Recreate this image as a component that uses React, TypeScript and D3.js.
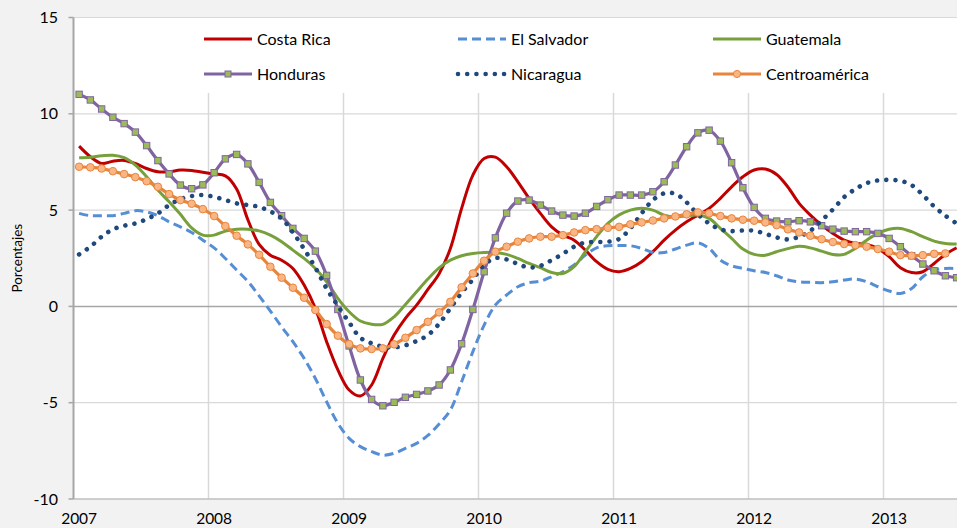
import React from "react";
import * as d3 from "d3";

// ---- Data (monthly, Jan 2007 – Jul 2013) ----
const costaRica = [8.32,7.77,7.42,7.54,7.58,7.42,7.16,6.99,6.99,7.08,7.06,6.96,6.87,6.78,6.1,4.5,3.22,2.66,2.4,1.97,1.11,-0.1,-1.83,-3.3,-4.34,-4.65,-4.08,-2.7,-1.49,-0.62,0.07,0.88,1.7,3.01,5.09,6.82,7.68,7.75,7.25,6.47,5.61,4.83,4.13,3.7,3.44,2.92,2.32,1.92,1.8,1.97,2.32,2.84,3.44,3.96,4.39,4.74,5.09,5.61,6.21,6.73,7.08,7.13,6.85,6.2,5.35,4.74,4.22,3.79,3.44,3.27,3.22,3.01,2.58,2.01,1.76,1.8,2.23,2.7,3.04];
const elSalvador = [4.83,4.71,4.71,4.71,4.83,4.97,4.91,4.71,4.39,4.13,3.84,3.44,3.04,2.49,1.89,1.3,0.55,-0.24,-1.06,-1.83,-2.7,-3.74,-4.95,-6.07,-6.85,-7.28,-7.54,-7.72,-7.63,-7.37,-7.11,-6.7,-6.1,-5.38,-3.91,-2.35,-0.97,0.07,0.59,1.02,1.23,1.31,1.54,1.8,2.15,2.66,3.04,3.15,3.16,3.15,3.01,2.8,2.8,2.98,3.18,3.3,3.01,2.4,2.11,1.97,1.85,1.76,1.59,1.37,1.28,1.25,1.23,1.28,1.37,1.42,1.28,1.02,0.8,0.67,0.93,1.54,1.89,1.97,1.97];
const guatemala = [7.72,7.75,7.82,7.85,7.72,7.34,6.73,6.04,5.43,4.78,4.08,3.7,3.7,3.91,4.01,4.01,3.92,3.7,3.36,2.92,2.49,1.97,1.28,0.42,-0.28,-0.76,-0.93,-0.93,-0.54,0.1,0.76,1.42,2.0,2.4,2.63,2.75,2.8,2.8,2.7,2.49,2.23,2.01,1.76,1.71,2.06,2.84,3.62,4.31,4.75,5.0,5.09,5.0,4.74,4.65,4.71,4.74,4.57,4.05,3.53,2.98,2.7,2.66,2.84,3.0,3.12,3.04,2.87,2.7,2.7,3.01,3.44,3.79,4.01,4.05,3.88,3.62,3.39,3.27,3.24];
const honduras = [11.01,10.72,10.25,9.82,9.49,9.05,8.35,7.57,6.88,6.3,6.11,6.31,6.94,7.66,7.89,7.4,6.44,5.4,4.71,4.05,3.53,2.87,1.61,-0.16,-2.05,-3.82,-4.83,-5.16,-4.98,-4.72,-4.57,-4.39,-4.08,-3.3,-1.94,-0.16,1.8,3.56,4.84,5.47,5.52,5.26,4.95,4.74,4.69,4.84,5.19,5.54,5.78,5.78,5.78,5.95,6.47,7.34,8.29,9.01,9.15,8.58,7.46,6.16,5.14,4.57,4.43,4.39,4.45,4.39,4.19,4.01,3.91,3.88,3.88,3.79,3.53,3.1,2.63,2.2,1.85,1.59,1.49];
const nicaragua = [2.7,3.1,3.62,4.0,4.19,4.31,4.53,4.83,5.26,5.57,5.73,5.78,5.69,5.52,5.35,5.26,5.17,4.93,4.57,3.84,2.98,2.01,0.93,0.03,-0.83,-1.63,-1.92,-2.09,-2.13,-2.02,-1.8,-1.49,-0.9,-0.1,0.71,1.4,2.15,2.51,2.44,2.2,2.02,2.11,2.4,2.73,3.1,3.32,3.34,3.36,3.5,4.05,4.83,5.52,5.87,5.85,5.4,4.78,4.31,4.0,3.91,3.94,3.93,3.77,3.58,3.48,3.62,3.93,4.46,5.03,5.67,6.09,6.4,6.54,6.57,6.52,6.3,5.78,5.19,4.71,4.31];
const centroamerica: (number | null)[] = [7.25,7.22,7.16,7.02,6.87,6.71,6.5,6.21,5.83,5.52,5.33,5.05,4.69,4.17,3.67,3.22,2.68,2.06,1.49,0.97,0.45,-0.19,-0.92,-1.52,-1.96,-2.18,-2.21,-2.18,-1.97,-1.63,-1.23,-0.8,-0.31,0.24,0.99,1.71,2.37,2.84,3.1,3.36,3.53,3.62,3.62,3.7,3.84,3.96,4.01,4.08,4.13,4.26,4.36,4.46,4.57,4.67,4.78,4.88,4.83,4.69,4.57,4.5,4.45,4.36,4.22,4.0,3.84,3.67,3.49,3.34,3.24,3.18,3.1,2.98,2.84,2.66,2.63,2.66,2.73,2.75,null];

const yearLabels = ["2007", "2008", "2009", "2010", "2011", "2012", "2013"];
const yTicks = [15, 10, 5, 0, -5, -10];
const seriesNames = ["Costa Rica", "El Salvador", "Guatemala", "Honduras", "Nicaragua", "Centroamérica"];

const months = d3.timeMonths(new Date(2007, 0, 1), new Date(2013, 7, 1));
const monthKeys = months.map((d) => d3.timeFormat("%Y-%m")(d));

const W = 957;
const H = 528;
const left = 73.5;
const top = 17.5;
const bottom = 499;
const step = 11.25;

const FONT = "Lato, 'Open Sans', sans-serif";

type Style = {
  color: string;
  width: number;
  dash?: string;
  cap?: string;
  marker?: "square" | "circle";
  mFill?: string;
  mStroke?: string;
};

const styles: Style[] = [
  { color: "#c00000", width: 3 },
  { color: "#558ed5", width: 3, dash: "9 5" },
  { color: "#77a03c", width: 3 },
  { color: "#8064a2", width: 3.2, marker: "square", mFill: "#9bbb59", mStroke: "#8064a2" },
  { color: "#1f497d", width: 4.6, dash: "0.01 9.2", cap: "round" },
  { color: "#e8853c", width: 3.2, marker: "circle", mFill: "#fab584", mStroke: "#e8853c" },
];

export default function App() {
  const x = d3
    .scaleBand<string>()
    .domain(monthKeys)
    .range([left, left + monthKeys.length * step])
    .padding(0);
  const bw = x.bandwidth();
  const cx = (i: number) => (x(monthKeys[i]) as number) + bw / 2;
  const y = d3.scaleLinear().domain([-10, 15]).range([bottom, top]);

  const data: (number | null)[][] = [costaRica, elSalvador, guatemala, honduras, nicaragua, centroamerica];

  const line = d3
    .line<number | null>()
    .defined((d) => d != null)
    .x((_, i) => cx(i))
    .y((d) => y(d as number))
    .curve(d3.curveCatmullRom.alpha(0.5));

  const yearIdx = yearLabels.map((_, k) => k * 12);

  const legCols = [204, 458, 713];
  const legRows = [39, 74];

  return (
    <svg
      width={W}
      height={H}
      style={{ position: "absolute", left: 0, top: 0, background: "#f2f2f2" }}
      fontFamily={FONT}
    >
      <rect x={0} y={0} width={W} height={H} fill="#f2f2f2" />
      <rect x={left} y={top} width={W - left} height={bottom - top} fill="#ffffff" />

      {yearIdx.map((i) =>
        i === 0 ? null : (
          <line
            key={"vg" + i}
            x1={x(monthKeys[i]) as number}
            x2={x(monthKeys[i]) as number}
            y1={93}
            y2={bottom}
            stroke="#d9d9d9"
            strokeWidth={1.5}
          />
        )
      )}
      {yTicks.map((t) => (
        <line
          key={"hg" + t}
          x1={left}
          x2={W}
          y1={y(t)}
          y2={y(t)}
          stroke={t === -10 ? "#bfbfbf" : t === 0 ? "#a6a6a6" : "#d9d9d9"}
          strokeWidth={t === -10 || t === 0 ? 1.5 : 1.2}
        />
      ))}
      <line x1={left} x2={left} y1={top} y2={bottom} stroke="#a6a6a6" strokeWidth={2} />
      {yTicks.map((t) => (
        <line key={"yt" + t} x1={left - 5} x2={left} y1={y(t)} y2={y(t)} stroke="#a6a6a6" strokeWidth={1.5} />
      ))}
      {yTicks.map((t) => (
        <text key={"yl" + t} x={58} y={y(t)} dy="0.35em" textAnchor="end" fontSize={16} fill="#000">
          {t}
        </text>
      ))}
      <text
        transform={`translate(22,${(top + bottom) / 2}) rotate(-90)`}
        textAnchor="middle"
        fontSize={13.5}
        fill="#000"
      >
        Porcentajes
      </text>
      {yearLabels.map((lab, k) => (
        <text key={lab} x={cx(yearIdx[k])} y={524} textAnchor="middle" fontSize={15.5} fill="#000">
          {lab}
        </text>
      ))}

      {data.map((vals, s) => {
        const st = styles[s];
        return (
          <g key={seriesNames[s]}>
            <path
              d={line(vals) || ""}
              fill="none"
              stroke={st.color}
              strokeWidth={st.width}
              strokeDasharray={st.dash}
              strokeLinecap={(st.cap as any) || "butt"}
              strokeLinejoin="round"
            />
            {st.marker === "square" &&
              vals.map((v, i) =>
                v == null ? null : (
                  <rect
                    key={i}
                    x={cx(i) - 3.2}
                    y={y(v) - 3.2}
                    width={6.4}
                    height={6.4}
                    fill={st.mFill}
                    stroke={st.mStroke}
                    strokeWidth={1}
                  />
                )
              )}
            {st.marker === "circle" &&
              vals.map((v, i) =>
                v == null ? null : (
                  <circle key={i} cx={cx(i)} cy={y(v)} r={3.8} fill={st.mFill} stroke={st.mStroke} strokeWidth={1} />
                )
              )}
          </g>
        );
      })}

      {seriesNames.map((name, s) => {
        const st = styles[s];
        const lx = legCols[s % 3];
        const ly = legRows[Math.floor(s / 3)];
        return (
          <g key={"leg" + name}>
            <line
              x1={lx}
              x2={lx + 48}
              y1={ly}
              y2={ly}
              stroke={st.color}
              strokeWidth={st.width}
              strokeDasharray={st.dash}
              strokeLinecap={(st.cap as any) || "butt"}
            />
            {st.marker === "square" && (
              <rect x={lx + 21} y={ly - 3} width={6} height={6} fill={st.mFill} stroke={st.mStroke} strokeWidth={1} />
            )}
            {st.marker === "circle" && (
              <circle cx={lx + 24} cy={ly} r={3.6} fill={st.mFill} stroke={st.mStroke} strokeWidth={1} />
            )}
            <text x={lx + 53} y={ly} dy="0.36em" fontSize={16} fill="#000">
              {name}
            </text>
          </g>
        );
      })}
    </svg>
  );
}
